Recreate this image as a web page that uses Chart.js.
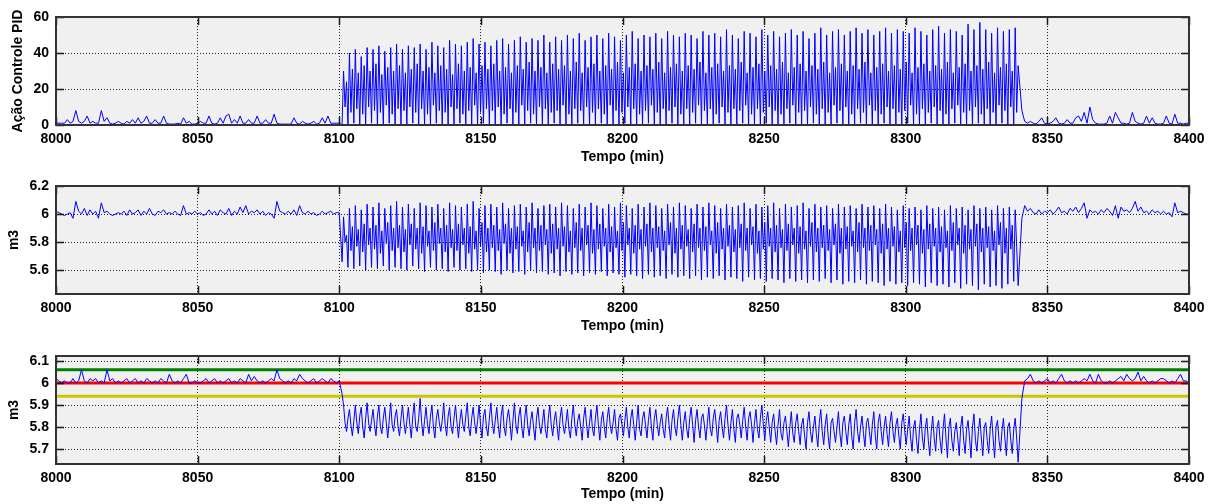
<!DOCTYPE html>
<html>
<head>
<meta charset="utf-8">
<script src="https://cdn.jsdelivr.net/npm/chart.js@4"></script>
<style>
  body { margin: 0; background: #fff; }
  #wrap { position: relative; width: 1216px; height: 504px; overflow: hidden; }
  canvas { position: absolute; left: 0; }
</style>
</head>
<body>
<div id="wrap">
  <canvas id="c1" width="1216" height="170" style="top:0"></canvas>
  <canvas id="c2" width="1216" height="170" style="top:170px"></canvas>
  <canvas id="c3" width="1216" height="164" style="top:340px"></canvas>
</div>
<script>
// sampling grid: calm parts every minute, oscillating part 4 samples per ~2.08 min cycle
const preStart = 8000;
const oscStart = 8101;
const oscStep = 0.52;
const postStart = 8341;

const xTicks = [8000, 8050, 8100, 8150, 8200, 8250, 8300, 8350, 8400];
const topTicks = [0, 20, 40, 60];
const midTicks = [5.6, 5.8, 6, 6.2];
const botTicks = [5.7, 5.8, 5.9, 6, 6.1];

// limits of the level plot: upper (green), setpoint (red), lower (yellow)
const limits = [6.06, 6.0, 5.94];

// Ação Controle PID
const topPre = [
  1,1,1,1,3,1,2,8,2,1,
  2,5,1,2,1,1,8,2,4,1,
  0.5,1,2,1,0.5,2,1,3,1,4,
  1,2,5,1,1,3,1,1,5,1,
  0.5,0.5,0.5,1,0.5,4,1,2,0.5,0.5,
  1,2,1,1,5,1,0.5,1,4,1,
  5,6,1,3,1,5,1,1,3,1,
  1,5,1,1,3,1,1,6,1,0.5,
  0.5,0.5,0.5,0.5,4,1,0.5,2,1,0.5,
  1,2,0.5,1,4,1,5,1,1,1,
  1
];
const topOsc = [
  0,30,10,24, 0,40,7,31, 1,42,9,29, 0,38,6,33, 0,43,10,30,
  1,42,8,34, 0,44,7,28, 0,41,11,32, 1,43,6,30, 0,45,9,33,
  0,42,8,29, 0,44,10,31, 1,43,7,34, 0,45,9,30, 0,42,6,32,
  0,46,11,29, 1,44,8,33, 0,43,7,31, 0,47,10,28, 0,45,9,34,
  1,44,6,30, 0,46,8,32, 0,48,11,29, 0,45,7,33, 1,46,9,31,
  0,44,8,34, 0,47,10,30, 0,48,6,32, 1,45,9,29, 0,47,7,33,
  0,49,11,31, 0,46,8,35, 1,48,6,30, 0,47,10,32, 0,50,9,29,
  0,46,7,34, 1,49,8,31, 0,47,11,33, 0,50,6,30, 0,48,9,35,
  1,51,8,29, 0,47,10,32, 0,49,7,34, 0,50,9,30, 1,48,6,33,
  0,51,11,31, 0,49,8,35, 0,47,7,29, 1,50,10,32, 0,52,9,34,
  0,48,6,30, 0,50,8,33, 1,49,11,31, 0,51,7,35, 0,48,9,29,
  0,52,8,32, 1,50,10,34, 0,49,6,30, 0,51,9,33, 0,50,7,31,
  1,48,11,35, 0,52,8,29, 0,50,9,32, 0,51,6,34, 1,49,10,30,
  0,53,7,33, 0,50,9,31, 0,48,8,35, 1,52,11,29, 0,51,6,32,
  0,49,9,34, 0,53,7,30, 1,50,10,33, 0,52,8,31, 0,49,6,35,
  0,51,9,29, 1,53,11,32, 0,50,7,34, 0,52,8,30, 0,48,10,33,
  1,51,6,31, 0,54,9,35, 0,50,7,29, 0,52,11,32, 1,53,8,34,
  0,50,10,30, 0,52,6,33, 0,54,9,31, 1,51,7,35, 0,53,11,29,
  0,50,8,32, 0,52,6,34, 1,54,10,30, 0,51,9,33, 0,53,7,31,
  0,52,8,35, 1,51,11,29, 0,54,6,32, 0,52,9,34, 0,50,7,30,
  1,53,10,33, 0,55,8,31, 0,51,6,35, 0,53,9,29, 1,52,11,32,
  0,50,7,34, 0,56,8,30, 0,53,10,33, 1,57,6,31, 0,53,9,35,
  0,51,7,29, 0,54,11,32, 1,52,8,34, 0,53,10,30, 0,54,7,33
];
const topPost = [
  8,2,1,2,1,0.5,2,4,1,0.5,
  1,2,4,1,0.5,1,3,1,1,4,
  5,2,7,1,10,3,1,0.5,0.5,0.5,
  1,5,1,7,4,1,1,0.5,1,7,
  2,1,0.5,1,5,1,4,1,0.5,0.5,
  1,5,1,0.5,6,1,1,0.5,1,1
];

// m3 (middle)
const midPre = [
  6.02,6.01,6.00,5.99,6.00,6.01,5.97,6.09,6.02,6.00,
  6.04,5.99,6.03,6.00,6.02,5.97,6.08,6.01,6.02,6.00,
  5.99,6.00,6.01,6.00,6.02,5.99,6.03,6.00,6.01,6.03,
  5.99,6.02,6.00,6.04,6.00,5.99,6.02,6.01,6.03,6.00,
  6.01,6.00,6.02,6.00,5.99,6.06,6.00,6.01,6.00,6.02,
  6.00,6.01,5.99,6.00,6.03,6.00,6.02,5.99,6.03,6.01,
  6.00,6.04,5.99,6.02,6.00,6.05,6.01,6.06,6.00,6.02,
  6.01,6.03,6.00,6.02,5.99,6.01,6.00,5.97,6.09,6.02,
  6.01,6.00,6.02,6.00,6.03,5.99,6.06,6.01,6.00,6.02,
  6.00,6.01,5.99,6.00,6.02,6.00,6.01,6.02,6.00,6.01,
  6.01
];
const midOsc = [
  5.66,5.98,5.80,5.85, 5.62,6.04,5.74,5.91, 5.61,6.06,5.77,5.89, 5.63,6.03,5.73,5.93, 5.60,6.07,5.78,5.90,
  5.62,6.05,5.75,5.92, 5.61,6.08,5.72,5.88, 5.63,6.04,5.79,5.94, 5.60,6.06,5.74,5.90, 5.62,6.09,5.76,5.92,
  5.61,6.05,5.73,5.89, 5.60,6.07,5.78,5.93, 5.63,6.04,5.75,5.90, 5.61,6.08,5.72,5.91, 5.59,6.06,5.77,5.88,
  5.62,6.05,5.74,5.94, 5.60,6.07,5.79,5.90, 5.61,6.04,5.73,5.92, 5.59,6.08,5.76,5.89, 5.62,6.06,5.74,5.93,
  5.60,6.05,5.78,5.90, 5.61,6.07,5.72,5.91, 5.59,6.09,5.75,5.88, 5.60,6.04,5.77,5.94, 5.58,6.06,5.73,5.90,
  5.60,6.07,5.76,5.92, 5.59,6.05,5.74,5.89, 5.57,6.08,5.79,5.93, 5.60,6.04,5.72,5.90, 5.58,6.06,5.75,5.91,
  5.59,6.07,5.77,5.88, 5.57,6.05,5.73,5.94, 5.60,6.08,5.76,5.90, 5.58,6.04,5.74,5.92, 5.59,6.06,5.78,5.89,
  5.57,6.07,5.72,5.93, 5.58,6.05,5.75,5.90, 5.56,6.08,5.77,5.91, 5.59,6.06,5.73,5.88, 5.57,6.04,5.76,5.94,
  5.58,6.07,5.74,5.90, 5.56,6.05,5.78,5.92, 5.58,6.08,5.72,5.89, 5.57,6.06,5.75,5.93, 5.59,6.04,5.77,5.90,
  5.56,6.07,5.73,5.91, 5.58,6.05,5.76,5.88, 5.57,6.08,5.74,5.94, 5.55,6.06,5.78,5.90, 5.57,6.04,5.72,5.92,
  5.56,6.07,5.75,5.89, 5.54,6.05,5.77,5.93, 5.57,6.08,5.73,5.90, 5.55,6.06,5.76,5.91, 5.56,6.04,5.74,5.88,
  5.54,6.07,5.78,5.94, 5.57,6.05,5.72,5.90, 5.55,6.08,5.75,5.92, 5.56,6.06,5.77,5.89, 5.54,6.04,5.73,5.93,
  5.56,6.07,5.76,5.90, 5.53,6.05,5.74,5.91, 5.55,6.08,5.78,5.88, 5.54,6.06,5.72,5.94, 5.56,6.04,5.75,5.90,
  5.53,6.07,5.77,5.92, 5.55,6.05,5.73,5.89, 5.54,6.06,5.76,5.93, 5.52,6.08,5.74,5.90, 5.55,6.04,5.78,5.91,
  5.53,6.07,5.72,5.88, 5.54,6.05,5.75,5.94, 5.52,6.06,5.77,5.90, 5.54,6.08,5.73,5.92, 5.53,6.04,5.76,5.89,
  5.51,6.07,5.74,5.93, 5.54,6.05,5.78,5.90, 5.52,6.06,5.72,5.91, 5.53,6.08,5.75,5.88, 5.51,6.04,5.77,5.94,
  5.53,6.07,5.73,5.90, 5.52,6.05,5.76,5.92, 5.54,6.06,5.74,5.89, 5.51,6.04,5.78,5.93, 5.53,6.07,5.72,5.90,
  5.50,6.05,5.75,5.91, 5.52,6.06,5.77,5.88, 5.51,6.04,5.73,5.94, 5.53,6.07,5.76,5.90, 5.50,6.05,5.74,5.92,
  5.52,6.06,5.78,5.89, 5.51,6.04,5.72,5.93, 5.49,6.07,5.75,5.90, 5.52,6.05,5.77,5.91, 5.50,6.03,5.73,5.88,
  5.51,6.06,5.76,5.94, 5.49,6.04,5.74,5.90, 5.51,6.05,5.78,5.92, 5.50,6.03,5.72,5.89, 5.48,6.06,5.75,5.93,
  5.51,6.04,5.77,5.90, 5.49,6.05,5.73,5.91, 5.50,6.03,5.76,5.88, 5.48,6.06,5.74,5.94, 5.51,6.04,5.78,5.90,
  5.47,6.05,5.72,5.92, 5.50,6.03,5.75,5.89, 5.49,6.06,5.77,5.93, 5.46,6.04,5.73,5.90, 5.50,6.05,5.76,5.91,
  5.48,6.03,5.74,5.88, 5.49,6.06,5.78,5.94, 5.47,6.04,5.72,5.90, 5.50,6.05,5.75,5.92, 5.52,6.03,5.77,5.49
];
const midPost = [
  5.97,6.06,6.02,6.04,6.01,6.00,6.03,6.00,6.02,6.01,
  6.03,6.00,6.02,6.05,6.01,6.02,6.00,6.04,6.02,6.05,
  6.01,6.04,6.08,5.97,6.03,6.01,6.02,6.00,6.03,6.01,
  6.04,6.02,5.99,6.06,5.97,6.05,6.02,6.03,6.01,6.04,
  6.09,6.02,6.05,6.01,6.02,6.00,6.03,6.01,6.02,6.00,
  6.02,6.00,6.01,5.98,6.08,6.01,6.02,6.01,6.00,6.00
];

// m3 (bottom, with limits)
const botPre = [
  6.02,6.01,6.00,6.01,6.00,6.00,6.02,6.00,6.01,6.06,
  6.01,6.00,6.02,6.01,6.02,6.00,6.01,6.00,6.06,6.01,
  6.02,6.00,6.01,6.00,6.01,6.02,6.00,6.01,6.02,6.00,
  6.01,6.00,6.02,6.01,6.00,6.01,6.00,6.02,6.01,6.00,
  6.04,6.01,6.00,6.01,6.00,6.02,6.04,6.00,6.00,6.01,
  6.00,6.00,6.01,6.02,6.00,6.01,6.02,6.00,6.01,6.00,
  6.01,6.02,6.00,6.01,6.00,6.02,6.01,6.00,6.04,6.01,
  6.03,6.01,6.00,6.01,6.00,6.01,6.02,6.01,6.06,6.02,
  6.01,6.00,6.01,6.00,6.02,6.01,6.04,6.02,6.01,6.00,
  6.01,6.02,6.00,6.01,6.02,6.01,6.00,6.02,6.01,6.00,
  6.01
];
const botOsc = [
  5.95,5.90,5.82,5.78, 5.84,5.88,5.81,5.76, 5.83,5.90,5.82,5.77, 5.85,5.89,5.80,5.75, 5.84,5.91,5.82,5.78,
  5.83,5.88,5.81,5.76, 5.85,5.90,5.80,5.77, 5.84,5.89,5.82,5.75, 5.83,5.91,5.81,5.78, 5.85,5.88,5.80,5.76,
  5.84,5.90,5.82,5.77, 5.83,5.89,5.81,5.75, 5.85,5.91,5.80,5.78, 5.84,5.93,5.82,5.76, 5.83,5.89,5.81,5.77,
  5.85,5.90,5.80,5.75, 5.84,5.88,5.82,5.78, 5.83,5.91,5.81,5.76, 5.85,5.89,5.80,5.77, 5.84,5.90,5.82,5.75,
  5.83,5.88,5.81,5.78, 5.85,5.91,5.80,5.76, 5.84,5.89,5.82,5.77, 5.83,5.90,5.81,5.75, 5.85,5.88,5.80,5.76,
  5.84,5.91,5.82,5.77, 5.83,5.89,5.81,5.75, 5.85,5.90,5.80,5.76, 5.84,5.88,5.82,5.74, 5.83,5.91,5.81,5.77,
  5.85,5.89,5.80,5.75, 5.84,5.90,5.81,5.76, 5.83,5.87,5.80,5.74, 5.84,5.89,5.81,5.77, 5.82,5.88,5.79,5.75,
  5.84,5.90,5.81,5.76, 5.83,5.87,5.80,5.74, 5.84,5.89,5.81,5.77, 5.82,5.88,5.79,5.75, 5.84,5.90,5.81,5.76,
  5.83,5.86,5.80,5.74, 5.84,5.89,5.81,5.75, 5.82,5.88,5.79,5.76, 5.84,5.90,5.81,5.74, 5.83,5.87,5.80,5.75,
  5.84,5.89,5.81,5.77, 5.82,5.88,5.79,5.74, 5.84,5.86,5.81,5.76, 5.83,5.89,5.80,5.75, 5.84,5.88,5.81,5.74,
  5.82,5.90,5.79,5.76, 5.84,5.87,5.81,5.75, 5.83,5.89,5.80,5.74, 5.84,5.88,5.81,5.76, 5.82,5.86,5.79,5.75,
  5.84,5.89,5.81,5.74, 5.83,5.88,5.80,5.76, 5.84,5.90,5.81,5.74, 5.82,5.87,5.79,5.75, 5.84,5.89,5.81,5.73,
  5.83,5.88,5.80,5.75, 5.84,5.86,5.81,5.74, 5.82,5.89,5.79,5.76, 5.84,5.88,5.81,5.73, 5.83,5.87,5.80,5.75,
  5.84,5.90,5.81,5.74, 5.82,5.88,5.79,5.73, 5.84,5.86,5.81,5.75, 5.83,5.89,5.80,5.74, 5.84,5.87,5.81,5.73,
  5.82,5.88,5.79,5.75, 5.84,5.90,5.81,5.74, 5.83,5.87,5.80,5.73, 5.82,5.86,5.78,5.72, 5.81,5.88,5.77,5.74,
  5.82,5.85,5.78,5.71, 5.80,5.87,5.77,5.73, 5.82,5.86,5.78,5.72, 5.81,5.84,5.76,5.70, 5.82,5.87,5.78,5.73,
  5.80,5.85,5.77,5.71, 5.82,5.88,5.78,5.72, 5.81,5.86,5.76,5.70, 5.82,5.84,5.78,5.73, 5.80,5.87,5.77,5.71,
  5.82,5.85,5.78,5.72, 5.81,5.86,5.76,5.70, 5.82,5.88,5.78,5.73, 5.80,5.85,5.77,5.71, 5.82,5.84,5.78,5.72,
  5.81,5.87,5.76,5.70, 5.82,5.86,5.78,5.72, 5.80,5.85,5.77,5.71, 5.82,5.87,5.78,5.73, 5.81,5.84,5.76,5.70,
  5.82,5.86,5.78,5.72, 5.79,5.85,5.75,5.69, 5.80,5.83,5.74,5.68, 5.79,5.86,5.75,5.70, 5.80,5.84,5.74,5.67,
  5.78,5.85,5.75,5.69, 5.80,5.83,5.74,5.68, 5.79,5.86,5.75,5.66, 5.80,5.84,5.74,5.69, 5.78,5.82,5.75,5.67,
  5.80,5.85,5.74,5.68, 5.79,5.83,5.75,5.66, 5.80,5.86,5.74,5.69, 5.78,5.84,5.75,5.67, 5.80,5.82,5.74,5.68,
  5.79,5.85,5.75,5.66, 5.80,5.83,5.74,5.69, 5.78,5.84,5.75,5.67, 5.80,5.82,5.74,5.68, 5.79,5.84,5.75,5.64
];
const botPost = [
  5.93,6.01,6.02,6.04,6.01,6.00,6.01,6.00,6.01,6.02,
  6.00,6.01,6.00,6.02,6.04,6.01,6.00,6.01,6.00,6.01,
  6.00,6.01,6.02,6.01,6.04,6.01,6.00,6.04,6.01,6.00,
  6.00,6.01,6.00,6.01,6.02,6.03,6.01,6.04,6.02,6.01,
  6.02,6.05,6.01,6.03,6.01,6.00,6.01,6.00,6.01,6.02,
  6.02,6.01,6.00,6.01,6.00,6.02,6.04,6.01,6.01,6.00
];

function seg(start, step, vals) {
  return vals.map((v, i) => ({ x: start + i * step, y: v }));
}
function series(pre, osc, post) {
  return [...seg(preStart, 1, pre), ...seg(oscStart, oscStep, osc), ...seg(postStart, 1, post)];
}

const FONT = { family: '"Liberation Sans", Arial, sans-serif', size: 14, weight: 'bold' };

// gray plot box, inner tick marks like the original figure
const matlabAxes = {
  id: 'matlabAxes',
  beforeDraw(chart) {
    const { ctx, chartArea: a } = chart;
    ctx.save();
    ctx.fillStyle = '#f0f0f0';
    ctx.fillRect(a.left, a.top, a.width, a.height);
    ctx.restore();
  },
  afterDraw(chart) {
    const { ctx, chartArea: a, scales: { x, y } } = chart;
    ctx.save();
    ctx.strokeStyle = '#1a1a1a';
    ctx.lineWidth = 1.5;
    ctx.beginPath();
    x.ticks.forEach(t => {
      const px = Math.round(x.getPixelForValue(t.value)) + 0.5;
      ctx.moveTo(px, a.bottom); ctx.lineTo(px, a.bottom - 8);
      ctx.moveTo(px, a.top); ctx.lineTo(px, a.top + 8);
    });
    y.ticks.forEach(t => {
      const py = Math.round(y.getPixelForValue(t.value)) + 0.5;
      ctx.moveTo(a.left, py); ctx.lineTo(a.left + 8, py);
      ctx.moveTo(a.right, py); ctx.lineTo(a.right - 8, py);
    });
    ctx.stroke();
    ctx.strokeStyle = '#333';
    ctx.lineWidth = 2;
    ctx.strokeRect(a.left, a.top, a.width, a.height);
    ctx.restore();
  }
};

function makeChart(id, opt) {
  const H = opt.height;
  const datasets = [{
    data: opt.data,
    borderColor: '#0000ff',
    borderWidth: 1,
    pointRadius: 0,
    tension: 0
  }];
  (opt.lines || []).forEach(l => datasets.push({
    data: [{ x: xTicks[0], y: l.value }, { x: xTicks[xTicks.length - 1], y: l.value }],
    borderColor: l.color,
    borderWidth: 3,
    pointRadius: 0
  }));

  new Chart(document.getElementById(id), {
    type: 'line',
    data: { datasets },
    options: {
      responsive: false,
      animation: false,
      parsing: false,
      normalized: true,
      events: [],
      layout: { padding: { left: 0, right: 27, top: opt.top, bottom: 0 } },
      plugins: { legend: { display: false }, tooltip: { enabled: false } },
      scales: {
        x: {
          type: 'linear',
          min: xTicks[0],
          max: xTicks[xTicks.length - 1],
          z: 1,
          afterBuildTicks: s => { s.ticks = xTicks.map(v => ({ value: v })); },
          afterFit: s => { s.height = H - opt.top - 108; },
          grid: { color: '#222', lineWidth: 1, drawTicks: false },
          border: { display: false, dash: [1, 2] },
          ticks: { font: FONT, color: '#000', padding: 6, maxRotation: 0, autoSkip: false,
                   callback: v => String(v) },
          title: { display: true, text: 'Tempo (min)', font: FONT, color: '#000',
                   padding: { top: 0, bottom: opt.xTitlePad } }
        },
        y: {
          type: 'linear',
          min: opt.yMin,
          max: opt.yMax,
          z: 1,
          afterBuildTicks: s => { s.ticks = opt.ticks.map(v => ({ value: v })); },
          afterFit: s => { s.width = 56; },
          grid: { color: '#222', lineWidth: 1, drawTicks: false },
          border: { display: false, dash: [1, 2] },
          ticks: { font: FONT, color: '#000', padding: 7, autoSkip: false,
                   callback: v => String(+v.toFixed(2)) },
          title: { display: true, text: opt.yTitle, font: FONT, color: '#000',
                   padding: { top: opt.yTitlePad, bottom: 0 } }
        }
      }
    },
    plugins: [matlabAxes]
  });
}

makeChart('c1', {
  height: 170, top: 17, xTitlePad: 4, yTitlePad: 10,
  data: series(topPre, topOsc, topPost),
  yMin: 0, yMax: 60, ticks: topTicks, yTitle: 'Ação Controle PID'
});
makeChart('c2', {
  height: 170, top: 16, xTitlePad: 5, yTitlePad: 6,
  data: series(midPre, midOsc, midPost),
  yMin: 5.43, yMax: 6.2, ticks: midTicks, yTitle: 'm3'
});
makeChart('c3', {
  height: 164, top: 16, xTitlePad: 1, yTitlePad: 6,
  data: series(botPre, botOsc, botPost),
  yMin: 5.632, yMax: 6.123, ticks: botTicks, yTitle: 'm3',
  lines: [
    { value: limits[0], color: '#008000' },
    { value: limits[1], color: '#ff0000' },
    { value: limits[2], color: '#c8c800' }
  ]
});
</script>
</body>
</html>
